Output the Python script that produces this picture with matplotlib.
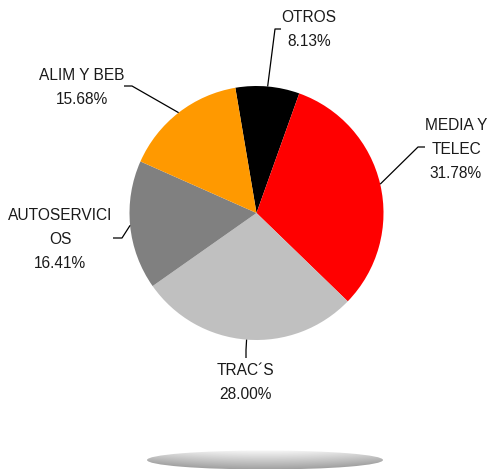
import numpy as np
import matplotlib.pyplot as plt
from matplotlib.patches import Ellipse

# data
labels = ['OTROS', 'MEDIA Y\nTELEC', 'TRAC\u00b4S', 'AUTOSERVICI\nOS', 'ALIM Y BEB']
shares = [8.13, 31.78, 28.00, 16.41, 15.68]
colors = ['#000000', '#FF0000', '#C0C0C0', '#808080', '#FF9900']

W, H = 487, 470
fig = plt.figure(figsize=(W / 100, H / 100), dpi=100)
ax = fig.add_axes([0, 0, 1, 1])

cx, cy, r = 256.5, H - 213, 127
start = 99.6
wedges, _ = ax.pie(shares, colors=colors, startangle=start, counterclock=False,
                   center=(cx, cy), radius=r, frame=True,
                   wedgeprops=dict(linewidth=0))
ax.set_xlim(0, W)
ax.set_ylim(0, H)
ax.set_aspect('equal')
ax.axis('off')

# label layout: (text centre, elbow, line end) in pixel coords from top
layout = [
    ((309, 29.5), (275, 29), (281, 29)),
    ((456, 149), (418, 147), (425, 147)),
    ((245, 382.5), (246, 350), (246, 358)),
    ((60, 240), (122, 238), (113, 238)),
    ((82, 87.5), (132, 86), (124, 86)),
]

for w, lab, val, (tp, elb, end) in zip(wedges, labels, shares, layout):
    mid = np.deg2rad((w.theta1 + w.theta2) / 2)
    sx, sy = cx + r * np.cos(mid), cy + r * np.sin(mid)
    ax.plot([sx, elb[0], end[0]], [sy, H - elb[1], H - end[1]],
            color='black', lw=0.9, solid_capstyle='butt')
    ax.text(tp[0], H - tp[1], f'{lab}\n{val:.2f}%', ha='center', va='center',
            fontsize=11.2, family='Liberation Sans', color='#1a1a1a',
            linespacing=1.75)

# shadow ellipse under the pie
ex, ey, ew, eh = 265, H - 460, 236, 19
gx = np.linspace(-1, 1, 200)
gy = np.linspace(-1, 1, 40)
X, Y = np.meshgrid(gx, gy)
val = 0.64 + 0.33 * (Y + 1) / 2 - 0.10 * X ** 2
img = np.dstack([val, val, val]).clip(0, 1)
im = ax.imshow(img, extent=[ex - ew / 2, ex + ew / 2, ey - eh / 2, ey + eh / 2],
               origin='lower', zorder=1, aspect='auto')
ell = Ellipse((ex, ey), ew, eh, transform=ax.transData, facecolor='none', edgecolor='none')
ax.add_patch(ell)
im.set_clip_path(ell)
ax.set_xlim(0, W)
ax.set_ylim(0, H)

fig.savefig('out.png', dpi=100)
